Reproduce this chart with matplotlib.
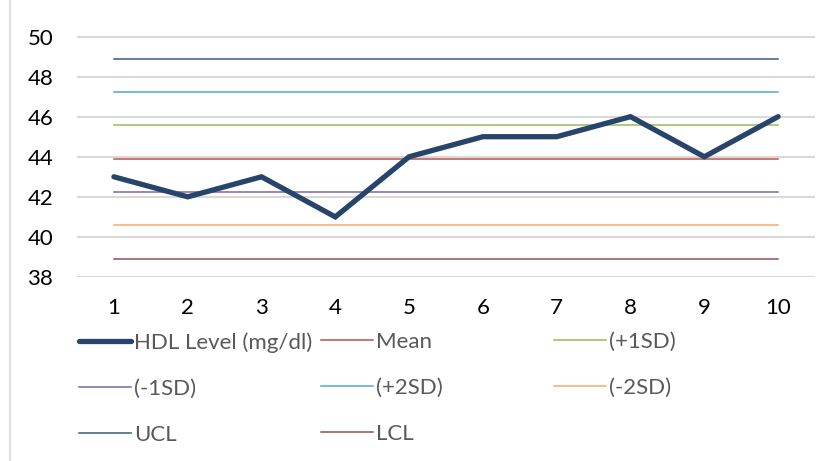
"""
HDL level control chart with mean, SD bands and control limits.
"""

import matplotlib
matplotlib.use("Agg")
from matplotlib import pyplot as plt
from matplotlib.patches import Rectangle

plt.rcParams["font.family"] = ["Lato", "DejaVu Sans"]

# measurements
samples = [1, 2, 3, 4, 5, 6, 7, 8, 9, 10]
hdl_level = [43, 42, 43, 41, 44, 45, 45, 46, 44, 46]

# reference levels (constant across samples)
mean_level = 43.9
plus_1sd = 45.56
minus_1sd = 42.24
plus_2sd = 47.23
minus_2sd = 40.57
ucl = 48.89
lcl = 38.91

yticks = [38, 40, 42, 44, 46, 48, 50]

fig = plt.figure(figsize=(8.32, 4.61), dpi=100)
ax = fig.add_axes([77 / 832, 1 - 277 / 461, (815 - 77) / 832, (277 - 36.5) / 461])

# outer chart frame, runs off the right and bottom of the image
fig.patches.append(Rectangle((10 / 832, -0.2), 1.2, 1.2 + (1 - 13 / 461),
                             transform=fig.transFigure, fill=False,
                             edgecolor="#D9D9D9", linewidth=1.2))

ref_lines = [
    ("Mean", mean_level, "#C0504D"),
    ("(+1SD)", plus_1sd, "#9BBB59"),
    ("(-1SD)", minus_1sd, "#8064A2"),
    ("(+2SD)", plus_2sd, "#4BACC6"),
    ("(-2SD)", minus_2sd, "#F9A86A"),
    ("UCL", ucl, "#3B5A82"),
    ("LCL", lcl, "#93504D"),
]

handles = {}
(h,) = ax.plot(samples, hdl_level, color="#27446A", linewidth=3.8,
               solid_capstyle="round", solid_joinstyle="miter", zorder=5,
               label="HDL Level (mg/dl)")
handles["HDL Level (mg/dl)"] = h
for name, level, color in ref_lines:
    (h,) = ax.plot(samples, [level] * len(samples), color=color,
                   linewidth=1.1, zorder=3, label=name)
    handles[name] = h

ax.set_xlim(0.5, 10.5)
ax.set_ylim(38, 50)
ax.set_yticks(yticks)
ax.set_xticks(samples)
ax.grid(axis="y", color="#D9D9D9", linewidth=1.5)
ax.set_axisbelow(True)
for s in ax.spines.values():
    s.set_visible(False)
ax.tick_params(length=0, labelsize=16, colors="#000000")
ax.tick_params(axis="y", pad=17)
ax.tick_params(axis="x", pad=15)

# legend laid out in three columns
columns = [
    (["HDL Level (mg/dl)", "(-1SD)", "UCL"], 79),
    (["Mean", "(+2SD)", "LCL"], 321),
    (["(+1SD)", "(-2SD)"], 554),
]
for names, x0 in columns:
    leg = fig.legend([handles[n] for n in names], names,
                     loc="upper left", bbox_to_anchor=(x0 / 832, 1 - 332 / 461),
                     frameon=False, fontsize=16, handlelength=2.35,
                     handletextpad=0.14, labelspacing=1.17, borderpad=0,
                     borderaxespad=0)
    for t in leg.get_texts():
        t.set_color("#595959")

fig.savefig("out.png", dpi=100)
